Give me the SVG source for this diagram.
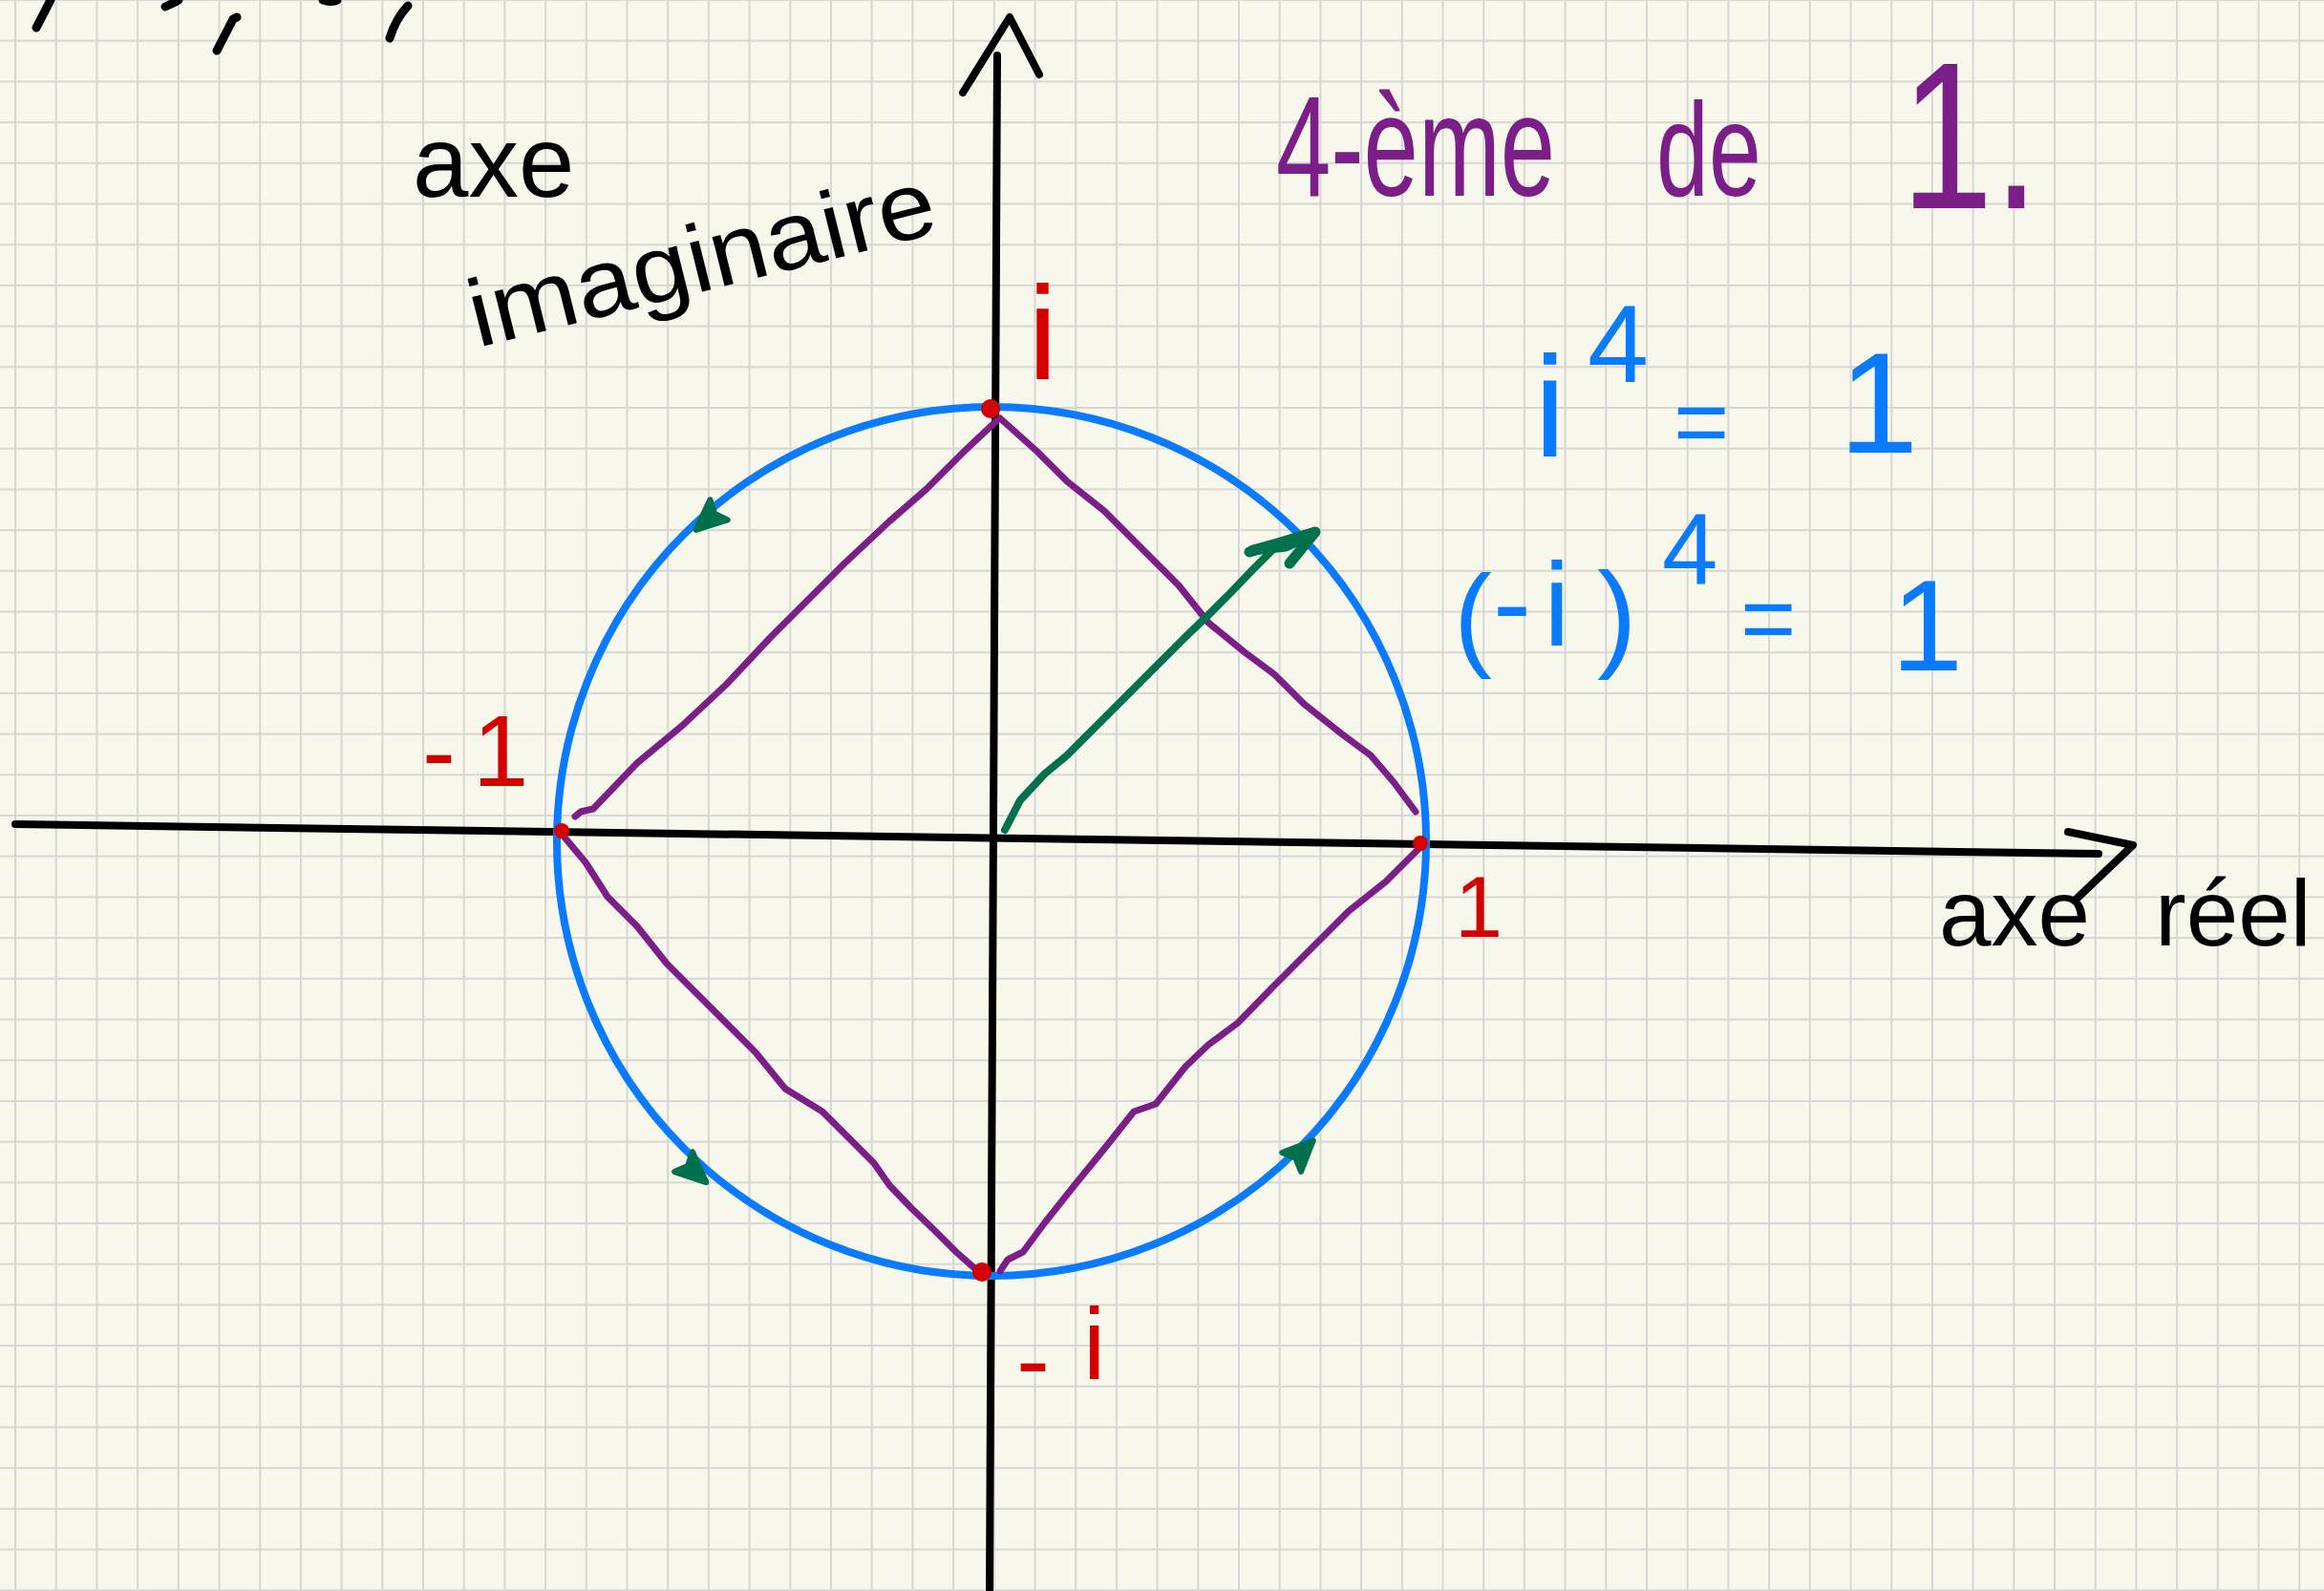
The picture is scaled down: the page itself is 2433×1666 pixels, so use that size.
<svg xmlns="http://www.w3.org/2000/svg" width="2433" height="1666" viewBox="0 0 2433 1666">
<style>
.ink{fill:none;stroke-linecap:round;stroke-linejoin:round}
.k{stroke:#000}
.txt{font-family:"Liberation Sans",Arial,sans-serif;font-weight:normal}
.blue{fill:#0a7aff}
.red{fill:#d40000}
.purple{fill:#7b1e88}
.black{fill:#000}
</style>
<defs>
<pattern id="grid" patternUnits="userSpaceOnUse" x="15" y="-1" width="42.7" height="42.7">
<rect x="0" y="0" width="42.7" height="42.7" fill="#f8f7eb"/>
<rect x="0" y="0" width="2" height="42.7" fill="#d6d6d6"/>
<rect x="0" y="0" width="42.7" height="2" fill="#d6d6d6"/>
</pattern>
</defs>
<rect width="2433" height="1666" fill="url(#grid)"/>

<g id="top-marks" class="ink k" stroke-width="9">
<path d="M38,29 L53,0"/>
<path d="M173,7 Q182,3 187,0"/>
<path d="M227,53 L244,20 L248,18"/>
<path d="M408,40 Q414,20 427,6"/>
<path d="M338,0 Q346,3 353,0"/>
</g>

<g id="axes" class="ink k" stroke-width="8">
<path d="M1036,1666 L1044,58"/>
<path d="M1008,97 L1057,18 L1088,78"/>
<path d="M16,863 L2197,894"/>
<path d="M2165,871 L2233,885 L2172,943"/>
</g>

<g id="unit-circle">
<circle cx="1038" cy="881" r="455" fill="none" stroke="#0a7aff" stroke-width="8"/>
</g>

<g id="square" class="ink" stroke="#7b1e88" stroke-width="7">
<path d="M602,855 L608,850 L621,847 L667,799 L714,760 L760,717 L807,667 L846,628 L884,590 L931,546 L970,512 L1009,473 L1043,441"/>
<path d="M1047,438 L1086,473 L1117,504 L1156,535 L1195,574 L1234,613 L1265,652 L1303,683 L1334,706 L1365,737 L1404,768 L1435,791 L1459,819 L1482,850"/>
<path d="M1490,884 L1451,923 L1412,954 L1373,993 L1334,1032 L1296,1071 L1265,1094 L1241,1117 L1210,1156 L1187,1164 L1156,1203 L1125,1241 L1094,1280 L1071,1311 L1055,1319 L1047,1331"/>
<path d="M587,872 L613,903 L636,939 L667,970 L698,1009 L729,1040 L760,1071 L791,1102 L822,1140 L861,1164 L892,1195 L915,1218 L931,1241 L954,1265 L978,1288 L1001,1311 L1027,1334"/>
</g>

<g id="vector" class="ink" stroke="#00714c" stroke-width="8">
<path d="M1052,869 L1068,838 L1094,810 L1117,791 L1148,760 L1179,729 L1210,698 L1241,667 L1265,644 L1288,621 L1311,597 L1334,574 L1377,557"/>
<path d="M1308,578 L1377,557 L1350,590" stroke-width="11"/>
<path d="M1312,576 L1372,560 L1346,572 Z" fill="#00714c" stroke-width="11"/>
</g>

<g id="rotation-arrows" fill="#00714c" stroke="#00714c" stroke-width="6" stroke-linejoin="round">
<polygon points="18,0 -14,-14 -8,0 -14,14" transform="translate(742,543) rotate(139)"/>
<polygon points="18,0 -14,-14 -8,0 -14,14" transform="translate(726,1226) rotate(42)"/>
<polygon points="18,0 -14,-14 -8,0 -14,14" transform="translate(1362,1207) rotate(-45)"/>
</g>

<g id="points" fill="#d40000">
<circle cx="1037" cy="428" r="10"/>
<circle cx="588" cy="870" r="8"/>
<circle cx="1487" cy="883" r="8"/>
<circle cx="1028" cy="1332" r="10"/>
</g>

<g id="labels-points" class="txt red">
<text x="1076" y="397" font-size="140">i</text>
<text font-size="105"><tspan x="442" y="823">-</tspan><tspan x="495" y="823">1</tspan></text>
<text x="1523" y="981" font-size="90">1</text>
<text font-size="105"><tspan x="1064" y="1460">-</tspan><tspan x="1134" y="1444">i</tspan></text>
</g>

<g id="label-imag-axis" class="txt black">
<text x="432" y="206" font-size="105">axe</text>
<text x="500" y="364" font-size="100" textLength="500" lengthAdjust="spacingAndGlyphs" transform="rotate(-14 500 364)">imaginaire</text>
</g>

<g id="label-real-axis" class="txt black">
<text font-size="98"><tspan x="2030" y="990">axe</tspan><tspan x="2256" y="990">réel</tspan></text>
</g>

<g id="title" class="txt purple">
<text font-size="150" transform="translate(1336,205) scale(0.687,1)">4-ème</text>
<text font-size="140" transform="translate(1734,205) scale(0.705,1)">de</text>
<text font-size="220" transform="translate(1990,218) scale(0.79,1)">1.</text>
</g>

<g id="equations" class="txt blue">
<text><tspan x="1606" y="478" font-size="150">i</tspan><tspan x="1662" y="400" font-size="115">4</tspan><tspan x="1752" y="476" font-size="100">=</tspan><tspan x="1925" y="474" font-size="150">1</tspan></text>
<text><tspan x="1522" y="686" font-size="120">(</tspan><tspan x="1563" y="672" font-size="120">-</tspan><tspan x="1616" y="676" font-size="125">i</tspan><tspan x="1672" y="686" font-size="125">)</tspan><tspan x="1740" y="612" font-size="105">4</tspan><tspan x="1822" y="682" font-size="100">=</tspan><tspan x="1980" y="702" font-size="135">1</tspan></text>
</g>
</svg>
